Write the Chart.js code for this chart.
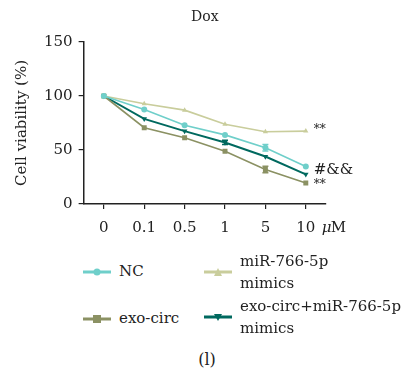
<!DOCTYPE html>
<html>
<head>
<meta charset="utf-8">
<script src="https://cdn.jsdelivr.net/npm/chart.js@4"></script>
<style>
  body { margin: 0; background: #fff; font-family: "DejaVu Serif", serif; color: #222; }
  #wrap { position: relative; width: 402px; height: 374px; }
  #viability-chart { position: absolute; left: 0; top: 0; }
  .leg { position: absolute; font-size: 15px; line-height: 21.5px; white-space: nowrap; }
  .leg svg { position: absolute; }
  #caption { position: absolute; left: 0; width: 414px; top: 350px; text-align: center; font-size: 16px; }
</style>
</head>
<body>
<div id="wrap">
  <canvas id="viability-chart" width="402" height="252"></canvas>
  <div id="legend"></div>
  <div id="caption">(l)</div>
</div>
<script>
// Data
const doses = ['0', '0.1', '0.5', '1', '5', '10'];
const ncValues = [100, 87.5, 73, 64, 52, 34.7];
const mimicsValues = [100, 92.8, 86.9, 73.8, 66.9, 67.5];
const exoCircValues = [100, 70.6, 61.3, 48.8, 32, 19.4];
const comboValues = [100, 78.8, 67.5, 57, 44, 27.5];
const ncErr = [0, 0, 0, 0, 3, 0];
const mimicsErr = [0, 0, 0, 0, 0, 0];
const exoCircErr = [0, 0, 0, 0, 3, 0];
const comboErr = [0, 0, 0, 2, 0, 0];
const yTicks = [0, 50, 100, 150];

const chartTitle = 'Dox';
const seriesNames = ['NC', 'miR-766-5p mimics', 'exo-circ', 'exo-circ+miR-766-5p mimics'];
const colors = ['#6fcfca', '#c9cd9c', '#8b9163', '#00695f'];
const notes = ['', '**', '**', '#&&'];

const font = '"DejaVu Serif", serif';

// title over plot area, error bars, end-of-line notes, unit label
const extrasPlugin = {
    id: 'extras',
    afterDatasetsDraw(chart) {
        const ctx = chart.ctx;
        const y = chart.scales.y;
        const x = chart.scales.x;
        const area = chart.chartArea;
        ctx.save();
        ctx.fillStyle = '#222';
        ctx.textAlign = 'center';
        ctx.textBaseline = 'middle';
        ctx.font = '14px ' + font;
        ctx.fillText(chartTitle, (area.left + area.right) / 2, 17);
        ctx.textAlign = 'left';

        chart.data.datasets.forEach((ds, i) => {
            const meta = chart.getDatasetMeta(i);
            ctx.strokeStyle = ds.borderColor;
            ctx.lineWidth = 1.5;
            ds.errors.forEach((e, j) => {
                if (!e) return;
                const px = meta.data[j].x;
                const top = y.getPixelForValue(ds.data[j] + e);
                const bot = y.getPixelForValue(ds.data[j] - e);
                ctx.beginPath();
                ctx.moveTo(px, top); ctx.lineTo(px, bot);
                ctx.moveTo(px - 3, top); ctx.lineTo(px + 3, top);
                ctx.moveTo(px - 3, bot); ctx.lineTo(px + 3, bot);
                ctx.stroke();
            });
            if (ds.note) {
                const last = meta.data[meta.data.length - 1];
                ctx.fillStyle = '#222';
                ctx.textBaseline = 'middle';
                ctx.font = (ds.note === '**' ? '12px ' : '15px ') + font;
                ctx.fillText(ds.note, last.x + 8, last.y + ds.noteShift);
            }
        });
        // unit after last x tick
        const lastX = x.getPixelForValue(doses.length - 1);
        ctx.fillStyle = '#222';
        ctx.textBaseline = 'middle';
        ctx.font = 'italic 15px ' + font;
        ctx.fillText('\u03bc', lastX + 16, x.top + 24);
        ctx.font = '15px ' + font;
        ctx.fillText('M', lastX + 25, x.top + 24);
        ctx.restore();
    }
};

const allValues = [ncValues, mimicsValues, exoCircValues, comboValues];
const allErr = [ncErr, mimicsErr, exoCircErr, comboErr];
const markers = ['circle', 'triangle', 'rect', 'triangle'];
const rotations = [0, 0, 0, 180];
const radii = [3, 3, 3.5, 3.2];
const shifts = [0, -1, 2, -4];

const ctx = document.getElementById('viability-chart').getContext('2d');
new Chart(ctx, {
    type: 'line',
    data: {
        labels: doses,
        datasets: allValues.map((vals, i) => ({
            label: seriesNames[i],
            data: vals,
            errors: allErr[i],
            note: notes[i],
            noteShift: shifts[i],
            borderColor: colors[i],
            backgroundColor: colors[i],
            borderWidth: i === 3 ? 2 : 1.6,
            pointStyle: markers[i],
            rotation: rotations[i],
            pointRadius: radii[i],
            pointBorderWidth: 0,
            tension: 0
        }))
    },
    options: {
        responsive: false,
        animation: false,
        devicePixelRatio: 1,
        layout: { padding: { top: 42, right: 76, left: 13, bottom: 5 } },
        plugins: {
            legend: { display: false },
            tooltip: { enabled: false },
            title: { display: false }
        },
        scales: {
            x: {
                offset: true,
                grid: { display: true, drawOnChartArea: false, drawTicks: true, tickLength: 5, color: '#222', lineWidth: 1.2 },
                border: { display: true, color: '#222', width: 1.5 },
                ticks: { color: '#222', padding: 10, maxRotation: 0, font: { family: font, size: 15 } }
            },
            y: {
                min: 0,
                max: 150,
                afterBuildTicks: (scale) => { scale.ticks = yTicks.map(v => ({ value: v })); },
                grid: { display: true, drawOnChartArea: false, drawTicks: true, tickLength: 5, color: '#222', lineWidth: 1.2 },
                border: { display: true, color: '#222', width: 1.5 },
                ticks: { color: '#222', padding: 6, font: { family: font, size: 15 } },
                title: {
                    display: true,
                    text: 'Cell viability (%)',
                    color: '#222',
                    padding: { top: 0, bottom: 7 },
                    font: { family: font, size: 15 }
                }
            }
        }
    },
    plugins: [extrasPlugin]
});

// HTML legend, two columns
const legendPos = [
    { x: 83, y: 272, lines: ['NC'] },
    { x: 204, y: 272, lines: ['miR-766-5p', 'mimics'] },
    { x: 83, y: 319, lines: ['exo-circ'] },
    { x: 204, y: 317, lines: ['exo-circ+miR-766-5p', 'mimics'] }
];
const legend = document.getElementById('legend');
legendPos.forEach((p, i) => {
    const item = document.createElement('div');
    item.className = 'leg';
    item.style.left = p.x + 'px';
    item.style.top = (p.y - 11) + 'px';
    let marker = '';
    if (markers[i] === 'circle') marker = `<circle cx="14" cy="11" r="3.5" fill="${colors[i]}"/>`;
    else if (markers[i] === 'rect') marker = `<rect x="10" y="7" width="8" height="8" fill="${colors[i]}"/>`;
    else if (rotations[i] === 180) marker = `<polygon points="10,8 18,8 14,15" fill="${colors[i]}"/>`;
    else marker = `<polygon points="10,15 18,15 14,7" fill="${colors[i]}"/>`;
    const svg = `<svg width="28" height="22" style="left:0;top:0"><line x1="0" y1="11" x2="28" y2="11" stroke="${colors[i]}" stroke-width="3"/>${marker}</svg>`;
    const textTop = p.lines.length > 1 ? -10 : 0;
    item.innerHTML = svg + `<div style="position:absolute;left:36px;top:${textTop}px">${p.lines.join('<br>')}</div>`;
    legend.appendChild(item);
});
</script>
</body>
</html>
